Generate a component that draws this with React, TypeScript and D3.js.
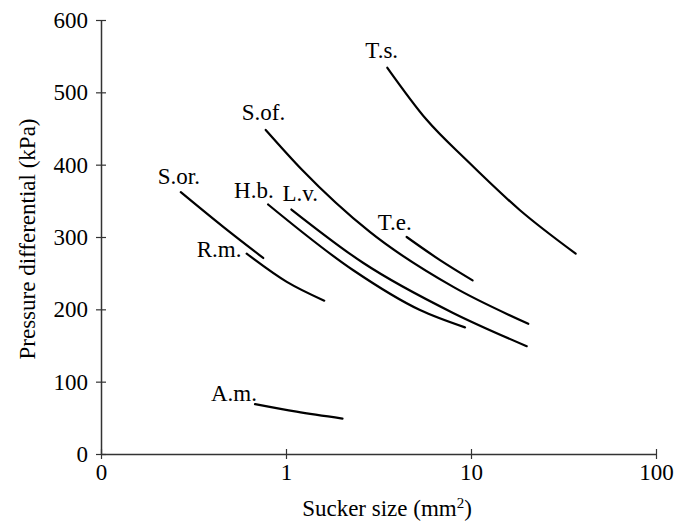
import * as d3 from "d3";
import { useEffect, useRef } from "react";

// ---- data ----
const speciesNames = ["T.s.", "S.of.", "L.v.", "H.b.", "T.e.", "S.or.", "R.m.", "A.m."];

const tsSize = [3.53, 5.76, 9.48, 18.4, 36.8];
const tsPressure = [534, 462, 406, 337, 277];

const sofSize = [0.777, 1.22, 2.84, 8.02, 20.4];
const sofPressure = [448, 393, 307, 231, 180];

const lvSize = [1.07, 2.62, 8.0, 20.0];
const lvPressure = [338, 264, 195, 149];

const hbSize = [0.8, 2.31, 5.3, 9.28];
const hbPressure = [345, 254, 199, 175];

const teSize = [4.49, 6.8, 10.2];
const tePressure = [300, 268, 240];

const sorSize = [0.27, 0.458, 0.753];
const sorPressure = [362, 314, 271];

const rmSize = [0.613, 1.01, 1.61];
const rmPressure = [277, 238, 212];

const amSize = [0.68, 1.14, 2.02];
const amPressure = [69, 58.5, 49];

const xTicks = [0.1, 1, 10, 100];
const xTickLabels = ["0", "1", "10", "100"];
const yTicks = [0, 100, 200, 300, 400, 500, 600];

export default function App() {
    const svgRef = useRef<SVGSVGElement | null>(null);

    useEffect(() => {
        const width = 687;
        const height = 523;
        const font = "'Liberation Serif', 'Times New Roman', serif";
        const fs = 23;

        const svg = d3.select(svgRef.current);
        svg.selectAll("*").remove();
        svg.attr("viewBox", `0 0 ${width} ${height}`);

        // ---- scales ----
        const x = d3.scaleLog().domain([0.1, 100]).range([101, 656]);
        const y = d3.scaleLinear().domain([0, 600]).range([454, 20]);

        // ---- axes ----
        const xAxis = svg.append("g")
            .attr("transform", `translate(0,${y(0)})`)
            .call(
                d3.axisBottom(x)
                    .tickValues(xTicks)
                    .tickFormat((_, i) => xTickLabels[i])
                    .tickSize(5)
                    .tickSizeOuter(0)
                    .tickPadding(5)
            );
        xAxis.selectAll(".tick line").attr("y1", -5).attr("y2", 5);

        const yAxis = svg.append("g")
            .attr("transform", `translate(${x(0.1)},0)`)
            .call(d3.axisLeft(y).tickValues(yTicks).tickSize(5).tickSizeOuter(0).tickPadding(8));
        yAxis.selectAll(".tick line").attr("x1", -5).attr("x2", 5);

        [xAxis, yAxis].forEach((a) => {
            a.select(".domain").attr("stroke", "#333").attr("stroke-width", 1.5);
            a.selectAll(".tick line").attr("stroke", "#333").attr("stroke-width", 1.2);
            a.selectAll("text")
                .attr("font-family", font)
                .attr("font-size", fs)
                .attr("fill", "#000");
        });

        // ---- axis titles ----
        const xt = svg.append("text")
            .attr("x", 387)
            .attr("y", 516)
            .attr("text-anchor", "middle")
            .attr("font-family", font)
            .attr("font-size", fs)
            .text("Sucker size (mm");
        xt.append("tspan").attr("font-size", 15).attr("dy", -8).text("2");
        xt.append("tspan").attr("dy", 8).text(")");

        svg.append("text")
            .attr("transform", `translate(27,${(y(0) + y(600)) / 2 + 2}) rotate(-90)`)
            .attr("text-anchor", "middle")
            .attr("dominant-baseline", "central")
            .attr("font-family", font)
            .attr("font-size", fs)
            .text("Pressure differential (kPa)");

        // ---- curves ----
        const sizes = [tsSize, sofSize, lvSize, hbSize, teSize, sorSize, rmSize, amSize];
        const pressures = [tsPressure, sofPressure, lvPressure, hbPressure, tePressure, sorPressure, rmPressure, amPressure];

        const line = d3.line<[number, number]>()
            .x((d) => x(d[0]))
            .y((d) => y(d[1]))
            .curve(d3.curveMonotoneX);

        // label offset from curve start (px)
        const labelOffset: Record<string, [number, number]> = {
            "T.s.": [-22, -17],
            "S.of.": [-24, -17],
            "L.v.": [-9, -16],
            "H.b.": [-34, -14],
            "T.e.": [-29, -15],
            "S.or.": [-23, -16],
            "R.m.": [-50, -4],
            "A.m.": [-44, -11],
        };

        speciesNames.forEach((name, k) => {
            const pts = sizes[k].map((s, i) => [s, pressures[k][i]] as [number, number]);
            svg.append("path")
                .datum(pts)
                .attr("d", line)
                .attr("fill", "none")
                .attr("stroke", "#000")
                .attr("stroke-width", 2.2)
                .attr("stroke-linecap", "round");

            const [dx, dy] = labelOffset[name];
            svg.append("text")
                .attr("x", x(pts[0][0]) + dx)
                .attr("y", y(pts[0][1]) + dy)
                .attr("dominant-baseline", "central")
                .attr("font-family", font)
                .attr("font-size", fs)
                .text(name);
        });
    }, []);

    return (
        <svg
            ref={svgRef}
            width={687}
            height={523}
            style={{ position: "absolute", left: 0, top: 0, background: "#fff" }}
        />
    );
}
